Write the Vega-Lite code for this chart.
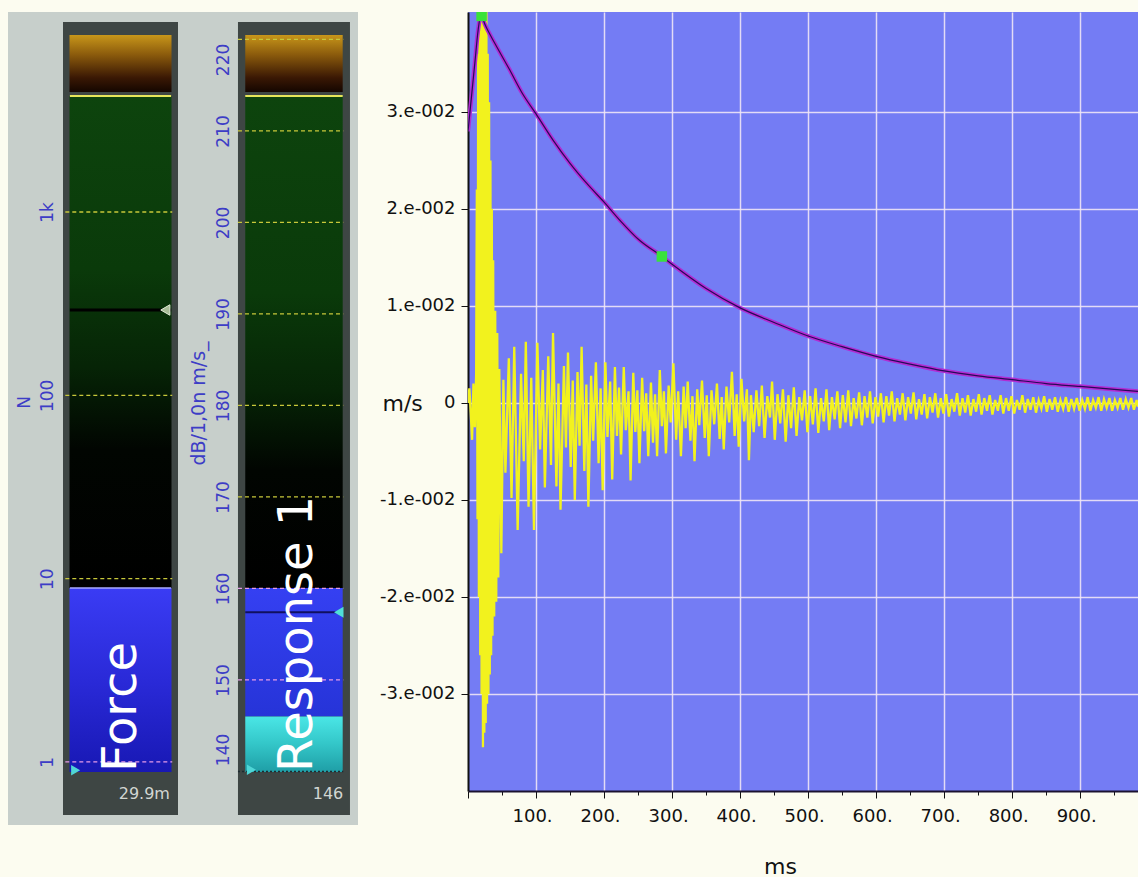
{
  "$schema": "https://vega.github.io/schema/vega-lite/v6.json",
  "background": "#fcfcf0",
  "padding": {"left": 8, "top": 12, "right": 0, "bottom": 0},
  "spacing": 0,
  "bounds": "flush",
  "config": {"view": {"stroke": null}, "font": "DejaVu Sans"},
  "resolve": {"scale": {"x": "independent", "y": "independent"}, "axis": {"x": "independent", "y": "independent"}},
  "datasets": {
    "force": [
      {"meter": "Force", "part": "frame", "lo": 0.514, "hi": 10875, "reading": "29.9m"},
      {"meter": "Force", "part": "overload", "lo": 4514, "hi": 9237},
      {"meter": "Force", "part": "range", "lo": 8.9, "hi": 4294},
      {"meter": "Force", "part": "level", "lo": 0.882, "hi": 8.9},
      {"meter": "Force", "part": "peak", "lo": 292},
      {"meter": "Force", "part": "floor", "lo": 0.9},
      {"meter": "Force", "part": "grid", "lo": 1},
      {"meter": "Force", "part": "grid", "lo": 10},
      {"meter": "Force", "part": "grid", "lo": 100},
      {"meter": "Force", "part": "grid", "lo": 1000}
    ],
    "response": [
      {"meter": "Response 1", "part": "frame", "lo": 135.25, "hi": 221.9, "reading": "146"},
      {"meter": "Response 1", "part": "overload", "lo": 214.26, "hi": 220.49},
      {"meter": "Response 1", "part": "range", "lo": 160.05, "hi": 213.83},
      {"meter": "Response 1", "part": "level", "lo": 146, "hi": 160.05},
      {"meter": "Response 1", "part": "current", "lo": 139.95, "hi": 146},
      {"meter": "Response 1", "part": "peak", "lo": 157.4},
      {"meter": "Response 1", "part": "floor", "lo": 140.2},
      {"meter": "Response 1", "part": "grid", "lo": 140},
      {"meter": "Response 1", "part": "grid", "lo": 150},
      {"meter": "Response 1", "part": "grid", "lo": 160},
      {"meter": "Response 1", "part": "grid", "lo": 170},
      {"meter": "Response 1", "part": "grid", "lo": 180},
      {"meter": "Response 1", "part": "grid", "lo": 190},
      {"meter": "Response 1", "part": "grid", "lo": 200},
      {"meter": "Response 1", "part": "grid", "lo": 210},
      {"meter": "Response 1", "part": "grid", "lo": 220}
    ],
    "signal": [
      {"t":0,"v":0},{"t":2,"v":0.0015},{"t":4,"v":-0.001},{"t":6,"v":-0.0038},{"t":8,"v":0.002},{"t":10,"v":-0.0025},{"t":12,"v":0.003},
      {"t":13,"v":0.022},{"t":14,"v":-0.012},{"t":15,"v":0.036},{"t":16,"v":-0.02},{"t":17,"v":0.048},{"t":18,"v":-0.026},
      {"t":19,"v":0.048},{"t":20,"v":-0.03},{"t":21,"v":0.048},{"t":22,"v":-0.0355},{"t":23,"v":0.046},{"t":24,"v":-0.034},
      {"t":25,"v":0.044},{"t":26,"v":-0.033},{"t":27,"v":0.041},{"t":28,"v":-0.031},{"t":29,"v":0.036},{"t":30,"v":-0.03},
      {"t":31,"v":0.031},{"t":32,"v":-0.028},{"t":33,"v":0.025},{"t":34,"v":-0.026},{"t":35,"v":0.02},{"t":36,"v":-0.024},
      {"t":37,"v":0.0147},{"t":38.5,"v":-0.022},{"t":40,"v":0.0095},{"t":41.5,"v":-0.0205},{"t":43,"v":0.0072},{"t":44.5,"v":-0.018},
      {"t":46,"v":0.0035},{"t":49,"v":-0.0155},{"t":52,"v":0.0024},{"t":55,"v":-0.0072},{"t":60,"v":0.0046},{"t":64,"v":-0.0098},
      {"t":68,"v":0.0058},{"t":73,"v":-0.0131},{"t":78,"v":0.003},{"t":82,"v":-0.006},{"t":85,"v":0.0063},{"t":89,"v":-0.0107},
      {"t":93,"v":0.0026},{"t":97,"v":-0.0131},{"t":102,"v":0.0062},{"t":106,"v":-0.0048},{"t":110,"v":0.0034},{"t":113,"v":-0.0087},
      {"t":118,"v":0.0048},{"t":122,"v":-0.0064},{"t":125,"v":0.0072},{"t":130,"v":-0.0086},{"t":133,"v":0.002},{"t":136,"v":-0.011},
      {"t":141,"v":0.0038},{"t":144,"v":-0.0046},{"t":147,"v":0.0052},{"t":151,"v":-0.0066},{"t":154,"v":0.0023},{"t":157,"v":-0.01},
      {"t":161,"v":0.0032},{"t":164,"v":-0.0044},{"t":167,"v":0.0058},{"t":171,"v":-0.007},{"t":174,"v":0.0019},{"t":177,"v":-0.0107},
      {"t":181,"v":0.0028},{"t":184,"v":-0.0039},{"t":188,"v":0.0042},{"t":192,"v":-0.0062},{"t":195,"v":0.0015},{"t":198,"v":-0.009},
      {"t":202,"v":0.0042},{"t":205,"v":-0.0035},{"t":209,"v":0.0022},{"t":212,"v":-0.0079},{"t":216,"v":0.0037},{"t":219,"v":-0.0034},
      {"t":222,"v":0.0016},{"t":225,"v":-0.0053},{"t":229,"v":0.0037},{"t":232,"v":-0.0028},{"t":236,"v":0.0012},{"t":239,"v":-0.008},
      {"t":243,"v":0.0031},{"t":246,"v":-0.003},{"t":249,"v":0.0013},{"t":252,"v":-0.0062},{"t":256,"v":0.0026},{"t":259,"v":-0.0029},
      {"t":262,"v":0.001},{"t":265,"v":-0.0055},{"t":269,"v":0.0021},{"t":272,"v":-0.0041},{"t":275,"v":0.0009},{"t":278,"v":-0.0055},
      {"t":282,"v":0.0034},{"t":285,"v":-0.0024},{"t":288,"v":0.0012},{"t":291,"v":-0.0052},{"t":295,"v":0.0018},{"t":298,"v":-0.002},
      {"t":302,"v":0.0041},{"t":306,"v":-0.0038},{"t":309,"v":0.0012},{"t":313,"v":-0.0055},{"t":317,"v":0.0017},{"t":320,"v":-0.0026},
      {"t":323,"v":0.0022},{"t":327,"v":-0.0039},{"t":330,"v":0.0007},{"t":333,"v":-0.006},{"t":337,"v":0.0014},{"t":340,"v":-0.0023},
      {"t":344,"v":0.0023},{"t":348,"v":-0.0036},{"t":351,"v":0.0008},{"t":354,"v":-0.0055},{"t":358,"v":0.0013},{"t":362,"v":-0.0022},
      {"t":366,"v":0.002},{"t":370,"v":-0.0037},{"t":373,"v":0.0006},{"t":376,"v":-0.0048},{"t":380,"v":0.0017},{"t":384,"v":-0.002},
      {"t":388,"v":0.0032},{"t":392,"v":-0.0034},{"t":395,"v":0.0009},{"t":398,"v":-0.0045},{"t":402,"v":0.0025},{"t":406,"v":-0.0019},
      {"t":410,"v":0.0014},{"t":413,"v":-0.0059},{"t":416,"v":0.0008},{"t":420,"v":-0.003},{"t":424,"v":0.0013},{"t":428,"v":-0.0024},
      {"t":432,"v":0.0018},{"t":436,"v":-0.0036},{"t":440,"v":0.0007},{"t":444,"v":-0.0015},{"t":447,"v":0.0022},{"t":451,"v":-0.0038},
      {"t":455,"v":0.0009},{"t":459,"v":-0.0021},{"t":463,"v":0.0014},{"t":467,"v":-0.004},{"t":471,"v":0.0008},{"t":475,"v":-0.0026},
      {"t":479,"v":0.0016},{"t":483,"v":-0.0034},{"t":487,"v":0.0006},{"t":491,"v":-0.0018},{"t":495,"v":0.0013},{"t":499,"v":-0.003},
      {"t":503,"v":0.0007},{"t":507,"v":-0.0022},{"t":511,"v":0.0015},{"t":515,"v":-0.0031},{"t":519,"v":0.0005},{"t":523,"v":-0.0019},
      {"t":527,"v":0.0014},{"t":531,"v":-0.0028},{"t":535,"v":0.0006},{"t":539,"v":-0.0017},{"t":543,"v":0.0012},{"t":547,"v":-0.0026},
      {"t":551,"v":0.0008},{"t":555,"v":-0.002},{"t":559,"v":0.0013},{"t":563,"v":-0.0024},{"t":567,"v":0.0005},{"t":571,"v":-0.0016},
      {"t":575,"v":0.0011},{"t":579,"v":-0.0023},{"t":583,"v":0.0007},{"t":587,"v":-0.0015},{"t":591,"v":0.0012},{"t":595,"v":-0.0021},
      {"t":599,"v":0.0006},{"t":603,"v":-0.0014},{"t":607,"v":0.001},{"t":611,"v":-0.002},{"t":615,"v":0.0007},{"t":619,"v":-0.0013},
      {"t":623,"v":0.0012},{"t":627,"v":-0.0019},{"t":631,"v":0.0005},{"t":635,"v":-0.0012},{"t":639,"v":0.001},{"t":643,"v":-0.0018},
      {"t":647,"v":0.0006},{"t":651,"v":-0.0011},{"t":655,"v":0.0011},{"t":659,"v":-0.0017},{"t":663,"v":0.0004},{"t":667,"v":-0.0012},
      {"t":671,"v":0.0009},{"t":675,"v":-0.0016},{"t":679,"v":0.0006},{"t":683,"v":-0.001},{"t":687,"v":0.001},{"t":691,"v":-0.0015},
      {"t":695,"v":0.0005},{"t":699,"v":-0.0011},{"t":703,"v":0.0009},{"t":707,"v":-0.0014},{"t":711,"v":0.0004},{"t":715,"v":-0.0009},
      {"t":719,"v":0.001},{"t":723,"v":-0.0013},{"t":727,"v":0.0005},{"t":731,"v":-0.001},{"t":735,"v":0.0008},{"t":739,"v":-0.0013},
      {"t":743,"v":0.0004},{"t":747,"v":-0.0009},{"t":751,"v":0.0009},{"t":755,"v":-0.0012},{"t":759,"v":0.0005},{"t":763,"v":-0.0008},
      {"t":767,"v":0.0008},{"t":771,"v":-0.0012},{"t":775,"v":0.0003},{"t":779,"v":-0.0008},{"t":783,"v":0.0008},{"t":787,"v":-0.0011},
      {"t":791,"v":0.0005},{"t":795,"v":-0.0008},{"t":799,"v":0.0007},{"t":803,"v":-0.0011},{"t":807,"v":0.0003},{"t":811,"v":-0.0007},
      {"t":815,"v":0.0008},{"t":819,"v":-0.001},{"t":823,"v":0.0004},{"t":827,"v":-0.0007},{"t":831,"v":0.0006},{"t":835,"v":-0.001},
      {"t":839,"v":0.0003},{"t":843,"v":-0.0006},{"t":847,"v":0.0007},{"t":851,"v":-0.0009},{"t":855,"v":0.0004},{"t":859,"v":-0.0007},
      {"t":863,"v":0.0006},{"t":867,"v":-0.0009},{"t":871,"v":0.0003},{"t":875,"v":-0.0006},{"t":879,"v":0.0006},{"t":883,"v":-0.0009},
      {"t":887,"v":0.0004},{"t":891,"v":-0.0006},{"t":895,"v":0.0005},{"t":899,"v":-0.0008},{"t":903,"v":0.0003},{"t":907,"v":-0.0006},
      {"t":911,"v":0.0006},{"t":915,"v":-0.0008},{"t":919,"v":0.0003},{"t":923,"v":-0.0005},{"t":927,"v":0.0006},{"t":931,"v":-0.0008},
      {"t":935,"v":0.0004},{"t":939,"v":-0.0005},{"t":943,"v":0.0005},{"t":947,"v":-0.0008},{"t":951,"v":0.0003},{"t":955,"v":-0.0005},
      {"t":959,"v":0.0005},{"t":963,"v":-0.0007},{"t":967,"v":0.0004},{"t":971,"v":-0.0005},{"t":975,"v":0.0005},{"t":979,"v":-0.0007},
      {"t":983,"v":0.0003},{"t":985,"v":-0.0004}
    ],
    "envelope": [
      {"t":0,"v":0.028},{"t":5,"v":0.0315},{"t":10,"v":0.035},{"t":15,"v":0.0385},{"t":19,"v":0.04},{"t":25,"v":0.039},
      {"t":40,"v":0.037},{"t":60,"v":0.0345},{"t":80,"v":0.0319},{"t":100,"v":0.0298},{"t":125,"v":0.0271},{"t":150,"v":0.0247},
      {"t":175,"v":0.0226},{"t":200,"v":0.0207},{"t":225,"v":0.0187},{"t":250,"v":0.0169},{"t":285,"v":0.0151},{"t":300,"v":0.0143},
      {"t":350,"v":0.0118},{"t":400,"v":0.0098},{"t":450,"v":0.0083},{"t":500,"v":0.0069},{"t":550,"v":0.0058},{"t":600,"v":0.0048},
      {"t":650,"v":0.004},{"t":700,"v":0.0033},{"t":750,"v":0.0028},{"t":800,"v":0.0024},{"t":850,"v":0.002},{"t":900,"v":0.0017},
      {"t":950,"v":0.0014},{"t":985,"v":0.0012}
    ],
    "markers": [
      {"t": 20, "v": 0.0399},
      {"t": 285, "v": 0.0151}
    ]
  },
  "hconcat": [
    {
      "width": 170,
      "height": 813,
      "view": {"fill": "#c7cfcb", "stroke": null},
      "data": {"name": "force"},
      "encoding": {
        "x": {"field": "meter", "type": "nominal", "axis": null,
              "scale": {"type": "band", "paddingInner": 0, "paddingOuter": 0.23913, "align": 1}},
        "y": {"field": "lo", "type": "quantitative",
              "scale": {"type": "log", "domain": [0.453, 12330], "nice": false},
              "axis": {"values": [1, 10, 100, 1000], "format": "~s", "offset": -55, "domain": false, "ticks": false, "grid": false,
                       "labelAngle": 270, "labelAlign": "center", "labelBaseline": "bottom", "labelPadding": 7, "labelOverlap": false,
                       "labelFont": "DejaVu Sans", "labelFontSize": 17, "labelColor": "#3d3dc6",
                       "title": "N", "titleX": -39, "titleY": 390, "titleAngle": 270, "titleAlign": "center", "titleBaseline": "middle",
                       "titleFont": "DejaVu Sans", "titleFontSize": 17, "titleFontWeight": "normal", "titleColor": "#3d3dc6"}}
      },
      "layer": [
        {"transform": [{"filter": "datum.part === 'frame'"}],
         "mark": {"type": "bar", "width": {"band": 1}, "color": "#3e4644"},
         "encoding": {"y2": {"field": "hi"}}},
        {"transform": [{"filter": "datum.part === 'overload'"}],
         "mark": {"type": "bar", "width": {"band": 0.887},
                  "color": {"gradient": "linear", "x1": 0, "y1": 0, "x2": 0, "y2": 1,
                            "stops": [{"offset": 0, "color": "#c8961a"}, {"offset": 0.35, "color": "#8a5a0c"}, {"offset": 0.75, "color": "#3a1804"}, {"offset": 1, "color": "#140600"}]}},
         "encoding": {"y2": {"field": "hi"}}},
        {"transform": [{"filter": "datum.part === 'range'"}],
         "mark": {"type": "bar", "width": {"band": 0.887},
                  "color": {"gradient": "linear", "x1": 0, "y1": 0, "x2": 0, "y2": 1,
                            "stops": [{"offset": 0, "color": "#0d440d"}, {"offset": 0.35, "color": "#0a3a0a"}, {"offset": 0.55, "color": "#062406"}, {"offset": 0.72, "color": "#010501"}, {"offset": 1, "color": "#000000"}]}},
         "encoding": {"y2": {"field": "hi"}}},
        {"transform": [{"filter": "datum.part === 'level'"}],
         "mark": {"type": "bar", "width": {"band": 0.887},
                  "color": {"gradient": "linear", "x1": 0, "y1": 0, "x2": 0, "y2": 1,
                            "stops": [{"offset": 0, "color": "#3a3cf4"}, {"offset": 0.5, "color": "#2a2ad8"}, {"offset": 1, "color": "#1818b4"}]}},
         "encoding": {"y2": {"field": "hi"}}},
        {"transform": [{"filter": "datum.part === 'grid' && datum.lo >= 10"}],
         "mark": {"type": "rule", "color": "#c8c83a", "strokeWidth": 1.3, "strokeDash": [4, 3]},
         "encoding": {"x": {"field": "meter", "type": "nominal", "bandPosition": 0.02, "axis": null},
                      "x2": {"field": "meter", "bandPosition": 0.95}}},
        {"transform": [{"filter": "datum.part === 'grid' && datum.lo < 10"}],
         "mark": {"type": "rule", "color": "#e59ae8", "strokeWidth": 1.3, "strokeDash": [4, 3]},
         "encoding": {"x": {"field": "meter", "type": "nominal", "bandPosition": 0.02, "axis": null},
                      "x2": {"field": "meter", "bandPosition": 0.95}}},
        {"transform": [{"filter": "datum.part === 'range'"}],
         "mark": {"type": "rule", "color": "#e6e65a", "strokeWidth": 2},
         "encoding": {"x": {"field": "meter", "type": "nominal", "bandPosition": 0.06, "axis": null},
                      "x2": {"field": "meter", "bandPosition": 0.94},
                      "y": {"field": "hi", "type": "quantitative"}}},
        {"transform": [{"filter": "datum.part === 'level'"}],
         "mark": {"type": "rule", "color": "#a8a8ff", "strokeWidth": 1.5},
         "encoding": {"x": {"field": "meter", "type": "nominal", "bandPosition": 0.06, "axis": null},
                      "x2": {"field": "meter", "bandPosition": 0.94},
                      "y": {"field": "hi", "type": "quantitative"}}},
        {"transform": [{"filter": "datum.part === 'peak'"}],
         "mark": {"type": "rule", "color": "#000000", "strokeWidth": 3},
         "encoding": {"x": {"field": "meter", "type": "nominal", "bandPosition": 0.06, "axis": null},
                      "x2": {"field": "meter", "bandPosition": 0.94}}},
        {"transform": [{"filter": "datum.part === 'peak'"}],
         "mark": {"type": "point", "shape": "triangle-left", "filled": true, "size": 110, "color": "#a8bc98", "stroke": "#e4ecd8", "strokeWidth": 1, "opacity": 1},
         "encoding": {"x": {"field": "meter", "type": "nominal", "bandPosition": 0.89, "axis": null}}},
        {"transform": [{"filter": "datum.part === 'floor'"}],
         "mark": {"type": "point", "shape": "triangle-right", "filled": true, "size": 110, "color": "#4fd6d6", "opacity": 1},
         "encoding": {"x": {"field": "meter", "type": "nominal", "bandPosition": 0.11, "axis": null}}},
        {"transform": [{"filter": "datum.part === 'level'"}],
         "mark": {"type": "text", "angle": 270, "align": "left", "baseline": "middle", "font": "DejaVu Sans", "fontSize": 48, "color": "#ffffff"},
         "encoding": {"x": {"field": "meter", "type": "nominal", "bandPosition": 0.51, "axis": null},
                      "text": {"field": "meter"}}},
        {"transform": [{"filter": "datum.part === 'frame'"}],
         "mark": {"type": "text", "align": "right", "baseline": "middle", "dy": -21, "font": "DejaVu Sans", "fontSize": 16, "color": "#d2d6d2"},
         "encoding": {"x": {"field": "meter", "type": "nominal", "bandPosition": 0.93, "axis": null},
                      "text": {"field": "reading"}}}
      ]
    },
    {
      "width": 180,
      "height": 813,
      "view": {"fill": "#c7cfcb", "stroke": null},
      "data": {"name": "response"},
      "encoding": {
        "x": {"field": "meter", "type": "nominal", "axis": null,
              "scale": {"type": "band", "paddingInner": 0, "paddingOuter": 0.30357, "align": 0.882}},
        "y": {"field": "lo", "type": "quantitative",
              "scale": {"domain": [134.15, 223.0], "nice": false, "zero": false},
              "axis": {"values": [140, 150, 160, 170, 180, 190, 200, 210, 220], "format": "d", "offset": -60, "domain": false, "ticks": false, "grid": false,
                       "labelAngle": 270, "labelAlign": "center", "labelBaseline": "bottom", "labelPadding": 6, "labelOverlap": false,
                       "labelOffset": {"condition": [{"test": "datum.value === 220", "value": 20}, {"test": "datum.value === 140", "value": -22}], "value": 0},
                       "labelFont": "DejaVu Sans", "labelFontSize": 17, "labelColor": "#3d3dc6",
                       "title": "dB/1,0n m/s_", "titleX": -40, "titleY": 391, "titleAngle": 270, "titleAlign": "center", "titleBaseline": "middle",
                       "titleFont": "DejaVu Sans", "titleFontSize": 19, "titleFontWeight": "normal", "titleColor": "#3d3dc6"}}
      },
      "layer": [
        {"transform": [{"filter": "datum.part === 'frame'"}],
         "mark": {"type": "bar", "width": {"band": 1}, "color": "#3e4644"},
         "encoding": {"y2": {"field": "hi"}}},
        {"transform": [{"filter": "datum.part === 'overload'"}],
         "mark": {"type": "bar", "width": {"band": 0.87},
                  "color": {"gradient": "linear", "x1": 0, "y1": 0, "x2": 0, "y2": 1,
                            "stops": [{"offset": 0, "color": "#c8961a"}, {"offset": 0.35, "color": "#8a5a0c"}, {"offset": 0.75, "color": "#3a1804"}, {"offset": 1, "color": "#140600"}]}},
         "encoding": {"y2": {"field": "hi"}}},
        {"transform": [{"filter": "datum.part === 'range'"}],
         "mark": {"type": "bar", "width": {"band": 0.87},
                  "color": {"gradient": "linear", "x1": 0, "y1": 0, "x2": 0, "y2": 1,
                            "stops": [{"offset": 0, "color": "#0d440d"}, {"offset": 0.4, "color": "#0a3a0a"}, {"offset": 0.6, "color": "#062406"}, {"offset": 0.76, "color": "#010501"}, {"offset": 1, "color": "#000000"}]}},
         "encoding": {"y2": {"field": "hi"}}},
        {"transform": [{"filter": "datum.part === 'level'"}],
         "mark": {"type": "bar", "width": {"band": 0.87},
                  "color": {"gradient": "linear", "x1": 0, "y1": 0, "x2": 0, "y2": 1,
                            "stops": [{"offset": 0, "color": "#3540f2"}, {"offset": 1, "color": "#2634d8"}]}},
         "encoding": {"y2": {"field": "hi"}}},
        {"transform": [{"filter": "datum.part === 'current'"}],
         "mark": {"type": "bar", "width": {"band": 0.87},
                  "color": {"gradient": "linear", "x1": 0, "y1": 0, "x2": 0, "y2": 1,
                            "stops": [{"offset": 0, "color": "#4ae6e6"}, {"offset": 0.5, "color": "#33c6c8"}, {"offset": 1, "color": "#1f9ea6"}]}},
         "encoding": {"y2": {"field": "hi"}}},
        {"transform": [{"filter": "datum.part === 'grid' && datum.lo >= 165"}],
         "mark": {"type": "rule", "color": "#c8c83a", "strokeWidth": 1.3, "strokeDash": [4, 3]},
         "encoding": {"x": {"field": "meter", "type": "nominal", "bandPosition": 0.0, "axis": null},
                      "x2": {"field": "meter", "bandPosition": 0.94}}},
        {"transform": [{"filter": "datum.part === 'grid' && datum.lo < 165 && datum.lo > 145"}],
         "mark": {"type": "rule", "color": "#e59ae8", "strokeWidth": 1.3, "strokeDash": [4, 3]},
         "encoding": {"x": {"field": "meter", "type": "nominal", "bandPosition": 0.0, "axis": null},
                      "x2": {"field": "meter", "bandPosition": 0.94}}},
        {"transform": [{"filter": "datum.part === 'grid' && datum.lo < 145"}],
         "mark": {"type": "rule", "color": "#1c2a30", "strokeWidth": 1.5, "strokeDash": [2, 2]},
         "encoding": {"x": {"field": "meter", "type": "nominal", "bandPosition": 0.0, "axis": null},
                      "x2": {"field": "meter", "bandPosition": 0.94}}},
        {"transform": [{"filter": "datum.part === 'range'"}],
         "mark": {"type": "rule", "color": "#e6e65a", "strokeWidth": 2},
         "encoding": {"x": {"field": "meter", "type": "nominal", "bandPosition": 0.065, "axis": null},
                      "x2": {"field": "meter", "bandPosition": 0.935},
                      "y": {"field": "hi", "type": "quantitative"}}},
        {"transform": [{"filter": "datum.part === 'peak'"}],
         "mark": {"type": "rule", "color": "#101060", "strokeWidth": 2},
         "encoding": {"x": {"field": "meter", "type": "nominal", "bandPosition": 0.065, "axis": null},
                      "x2": {"field": "meter", "bandPosition": 0.935}}},
        {"transform": [{"filter": "datum.part === 'peak'"}],
         "mark": {"type": "point", "shape": "triangle-left", "filled": true, "size": 120, "color": "#50e0d8", "opacity": 1},
         "encoding": {"x": {"field": "meter", "type": "nominal", "bandPosition": 0.9, "axis": null}}},
        {"transform": [{"filter": "datum.part === 'floor'"}],
         "mark": {"type": "point", "shape": "triangle-right", "filled": true, "size": 110, "color": "#4fd6d6", "opacity": 1},
         "encoding": {"x": {"field": "meter", "type": "nominal", "bandPosition": 0.12, "axis": null}}},
        {"transform": [{"filter": "datum.part === 'current'"}],
         "mark": {"type": "text", "angle": 270, "align": "left", "baseline": "middle", "font": "DejaVu Sans", "fontSize": 48, "color": "#ffffff"},
         "encoding": {"x": {"field": "meter", "type": "nominal", "bandPosition": 0.54, "axis": null},
                      "text": {"field": "meter"}}},
        {"transform": [{"filter": "datum.part === 'frame'"}],
         "mark": {"type": "text", "align": "right", "baseline": "middle", "dy": -21, "font": "DejaVu Sans", "fontSize": 16, "color": "#d2d6d2"},
         "encoding": {"x": {"field": "meter", "type": "nominal", "bandPosition": 0.94, "axis": null},
                      "text": {"field": "reading"}}}
      ]
    },
    {
      "width": 110,
      "height": 779,
      "data": {"values": []},
      "mark": {"type": "point", "opacity": 0},
      "encoding": {}
    },
    {
      "width": 670,
      "height": 779,
      "view": {"fill": "#747cf4", "stroke": null},
      "encoding": {
        "x": {"field": "t", "type": "quantitative",
              "scale": {"domain": [0, 985], "nice": false, "zero": false},
              "axis": {"values": [0, 50, 100, 150, 200, 250, 300, 350, 400, 450, 500, 550, 600, 650, 700, 750, 800, 850, 900, 950],
                       "labelExpr": "datum.value > 0 && datum.value % 100 === 0 ? datum.value + '.' : ''",
                       "tickSize": {"condition": {"test": "datum.value % 100 === 0", "value": 7}, "value": 4},
                       "tickColor": "#111111",
                       "grid": true, "gridColor": "#efe6f6", "gridWidth": 1.5,
                       "gridOpacity": {"condition": {"test": "datum.value > 0 && datum.value % 100 === 0", "value": 0.9}, "value": 0},
                       "labelFont": "DejaVu Sans", "labelFontSize": 18, "labelColor": "#111111", "labelPadding": 9, "labelOffset": -4,
                       "labelFlush": false, "labelOverlap": false,
                       "domainColor": "#1b1230", "domainWidth": 2,
                       "title": "ms", "titleX": 312, "titleY": 75, "titleAlign": "center", "titleBaseline": "middle",
                       "titleFont": "DejaVu Sans", "titleFontSize": 22, "titleFontWeight": "normal", "titleColor": "#111111"}},
        "y": {"field": "v", "type": "quantitative",
              "scale": {"domain": [-0.04, 0.0403], "nice": false, "zero": false},
              "axis": {"values": [-0.03, -0.02, -0.01, 0, 0.01, 0.02, 0.03],
                       "labelExpr": "datum.value === 0 ? '0' : (datum.value < 0 ? '-' : '') + round(abs(datum.value) * 100) + '.e-002'",
                       "tickSize": 7, "tickColor": "#111111",
                       "grid": true, "gridColor": "#efe6f6", "gridWidth": 1.5, "gridOpacity": 0.9,
                       "labelFont": "DejaVu Sans", "labelFontSize": 18, "labelColor": "#111111", "labelPadding": 6,
                       "domainColor": "#111111", "domainWidth": 2,
                       "title": "m/s", "titleAngle": 0, "titleX": -86, "titleY": 391, "titleAlign": "left", "titleBaseline": "middle",
                       "titleFont": "DejaVu Sans", "titleFontSize": 22, "titleFontWeight": "normal", "titleColor": "#111111"}}
      },
      "layer": [
        {"data": {"name": "signal"},
         "mark": {"type": "line", "color": "#f2f21e", "strokeWidth": 2.3, "clip": true}},
        {"data": {"name": "envelope"},
         "mark": {"type": "line", "color": "#b22cd2", "strokeWidth": 4.2, "interpolate": "monotone", "clip": true}},
        {"data": {"name": "envelope"},
         "mark": {"type": "line", "color": "#260a58", "strokeWidth": 1.2, "interpolate": "monotone", "clip": true}},
        {"data": {"name": "markers"},
         "mark": {"type": "point", "shape": "square", "filled": true, "size": 110, "color": "#39e23a", "opacity": 1, "clip": true}}
      ]
    }
  ]
}
